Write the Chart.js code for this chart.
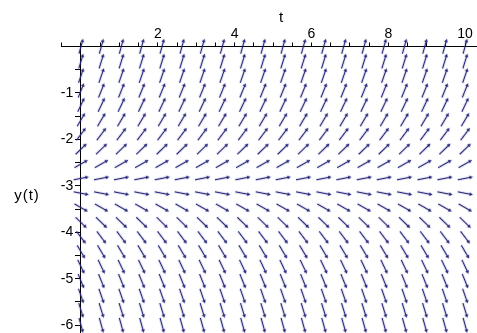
<!DOCTYPE html>
<html>
<head>
<meta charset="utf-8">
<script src="https://cdn.jsdelivr.net/npm/chart.js@4"></script>
<style>
    html, body { margin: 0; padding: 0; background: #ffffff; }
    #wrap { position: relative; width: 477px; height: 333px; }
</style>
</head>
<body>
<div id="wrap"><canvas id="dfield"></canvas></div>
<script>
// Grid of the direction field (Maple DEplot, 20 x 20 arrows)
const tValues = [0, 0.53, 1.05, 1.58, 2.11, 2.63, 3.16, 3.68, 4.21, 4.74,
                 5.26, 5.79, 6.32, 6.84, 7.37, 7.89, 8.42, 8.95, 9.47, 10];
const yValues = [0, -0.32, -0.63, -0.95, -1.26, -1.58, -1.89, -2.21, -2.53, -2.84,
                 -3.16, -3.47, -3.79, -4.11, -4.42, -4.74, -5.05, -5.37, -5.68, -6];
// slope dy/dt (same along a row)
const rowSlopes = [3.0, 2.7, 2.4, 2.05, 1.75, 1.4, 1.1, 0.8, 0.47, 0.16,
                   -0.16, -0.47, -0.8, -1.1, -1.4, -1.75, -2.05, -2.4, -2.7, -3.0];
// axis ticks
const tTicks = [-0.5, 0, 0.5, 1, 1.5, 2, 2.5, 3, 3.5, 4, 4.5, 5, 5.5, 6, 6.5, 7, 7.5, 8, 8.5, 9, 9.5, 10];
const tLabels = [2, 4, 6, 8, 10];
const yTicks = [-0.5, -1, -1.5, -2, -2.5, -3, -3.5, -4, -4.5, -5, -5.5, -6];
const yLabels = [-1, -2, -3, -4, -5, -6];

const arrowColor = '#23237a';

// small arrow glyph pointing right, rotated per point by Chart.js
function makeArrow() {
    const c = document.createElement('canvas');
    c.width = 17;
    c.height = 7;
    const g = c.getContext('2d');
    g.strokeStyle = arrowColor;
    g.fillStyle = arrowColor;
    g.lineWidth = 1.3;
    g.beginPath();
    g.moveTo(1, 3.5);
    g.lineTo(15, 3.5);
    g.stroke();
    g.beginPath();
    g.moveTo(16.5, 3.5);
    g.lineTo(12.8, 1.6);
    g.lineTo(13.5, 3.5);
    g.lineTo(12.8, 5.4);
    g.closePath();
    g.fill();
    return c;
}
const arrowImg = makeArrow();

const points = [];
yValues.forEach((y, i) => {
    tValues.forEach(t => {
        points.push({ x: t, y: y, slope: rowSlopes[i] });
    });
});

// axis names placed like Maple does
const axisNames = {
    id: 'axisNames',
    afterDraw(chart) {
        const ctx = chart.ctx;
        ctx.save();
        ctx.fillStyle = '#000';
        ctx.font = '15px "Liberation Sans", Arial, sans-serif';
        ctx.textAlign = 'center';
        ctx.textBaseline = 'middle';
        ctx.fillText('t', 281, 18);
        ctx.letterSpacing = '1px';
        ctx.fillText('y(t)', 27, 196);
        ctx.restore();
    }
};

Chart.defaults.font.family = '"Liberation Sans", Arial, sans-serif';
Chart.defaults.font.size = 14;
Chart.defaults.color = '#000';

new Chart(document.getElementById('dfield'), {
    type: 'scatter',
    data: {
        datasets: [{
            data: points,
            clip: false,
            pointStyle: arrowImg,
            radius: 8,
            hoverRadius: 8,
            rotation: (ctx) => {
                const sc = ctx.chart.scales;
                if (!ctx.raw || !sc.x || !sc.y) return 0;
                const pxT = Math.abs(sc.x.getPixelForValue(1) - sc.x.getPixelForValue(0));
                const pxY = Math.abs(sc.y.getPixelForValue(1) - sc.y.getPixelForValue(0));
                return -Math.atan(ctx.raw.slope * pxY / pxT) * 180 / Math.PI;
            }
        }]
    },
    options: {
        responsive: true,
        maintainAspectRatio: false,
        animation: false,
        events: [],
        layout: { autoPadding: false, padding: { left: 61, right: 0, top: 0, bottom: 0 } },
        plugins: {
            legend: { display: false },
            tooltip: { enabled: false }
        },
        scales: {
            x: {
                type: 'linear',
                position: 'top',
                min: -0.52,
                max: 10.31,
                afterFit: (s) => { s.height = 46.5; s.paddingLeft = 0; s.paddingRight = 0; },
                afterBuildTicks: (s) => { s.ticks = tTicks.map(v => ({ value: v })); },
                grid: { drawOnChartArea: false, drawTicks: true, tickLength: 4, color: '#000' },
                border: { display: true, color: '#000', width: 1 },
                ticks: {
                    padding: 0,
                    maxRotation: 0,
                    autoSkip: false,
                    callback: (v) => tLabels.includes(v) ? String(v) : ''
                }
            },
            y: {
                type: 'linear',
                position: { x: 0 },
                min: -6.17,
                max: 0,
                afterFit: (s) => { s.paddingTop = 0; s.paddingBottom = 0; },
                afterBuildTicks: (s) => { s.ticks = yTicks.map(v => ({ value: v })); },
                grid: { drawOnChartArea: false, drawTicks: true, tickLength: 5, color: '#000' },
                border: { display: true, color: '#000', width: 1 },
                ticks: {
                    autoSkip: false,
                    callback: (v) => yLabels.includes(v) ? String(v) + '  ' : ''
                }
            }
        }
    },
    plugins: [axisNames]
});
</script>
</body>
</html>
